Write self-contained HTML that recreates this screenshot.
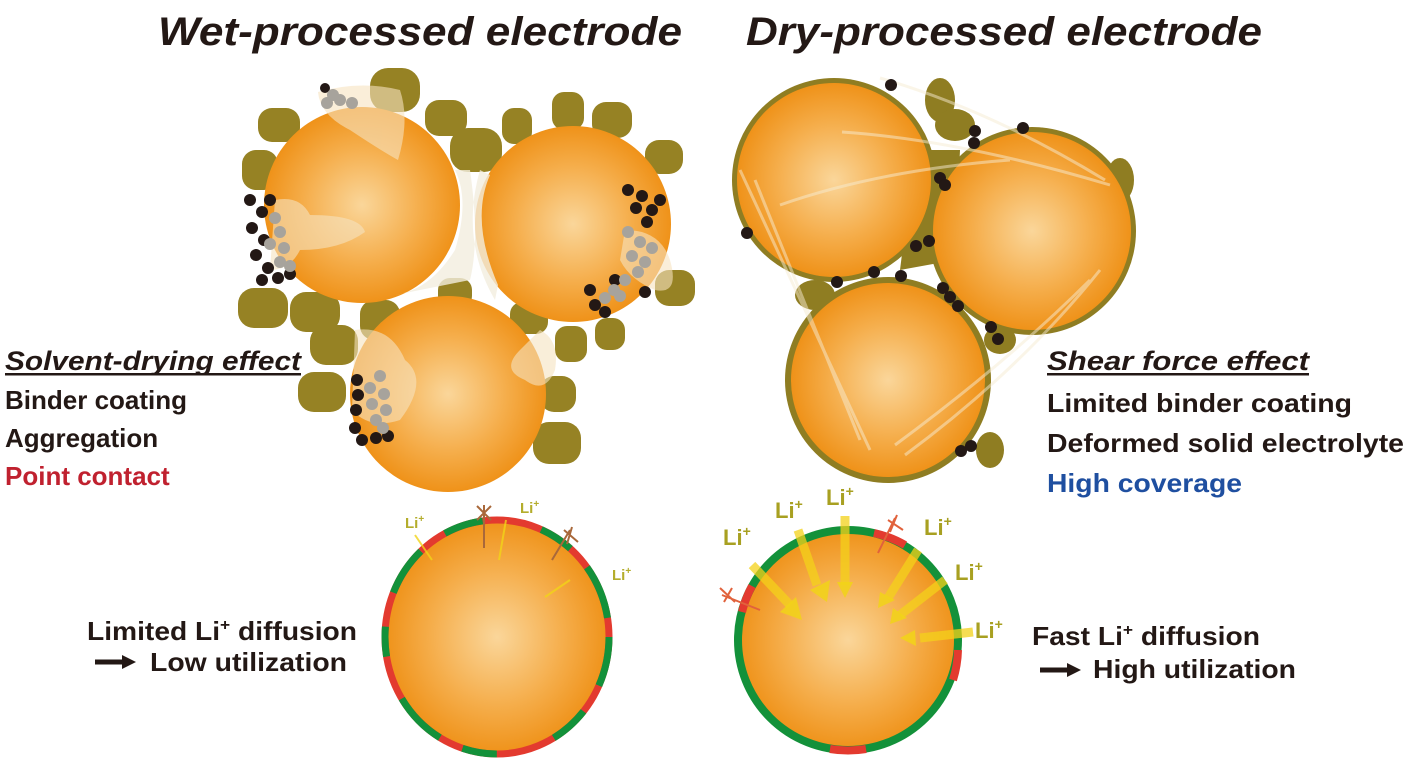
<!DOCTYPE html>
<html><head><meta charset="utf-8"><style>
html,body{margin:0;padding:0;background:#fff;}
svg{display:block;font-family:"Liberation Sans",Arial,sans-serif;}
</style></head><body>
<svg width="1407" height="766" viewBox="0 0 1407 766" xmlns="http://www.w3.org/2000/svg">
<defs>
<radialGradient id="og" cx="0.5" cy="0.5" r="0.5">
<stop offset="0" stop-color="#fad69a"/><stop offset="0.6" stop-color="#f5ad4a"/><stop offset="1" stop-color="#ef9219"/>
</radialGradient>
</defs>
<g font-weight="bold" fill="#231815">
<text x="158" y="45" font-size="40" font-style="italic" textLength="524" lengthAdjust="spacingAndGlyphs">Wet-processed electrode</text>
<text x="746" y="45" font-size="40" font-style="italic" textLength="516" lengthAdjust="spacingAndGlyphs">Dry-processed electrode</text>
<text x="5" y="370" font-size="27" font-style="italic" textLength="296" lengthAdjust="spacingAndGlyphs">Solvent-drying effect</text>
<rect x="5" y="373" width="296" height="2.5"/>
<text x="5" y="409" font-size="26">Binder coating</text>
<text x="5" y="447" font-size="26">Aggregation</text>
<text x="5" y="485" font-size="26" fill="#c0212f">Point contact</text>
<text x="1047" y="370" font-size="27" font-style="italic" textLength="262" lengthAdjust="spacingAndGlyphs">Shear force effect</text>
<rect x="1047" y="373" width="262" height="2.5"/>
<text x="1047" y="412" font-size="26" textLength="305" lengthAdjust="spacingAndGlyphs">Limited binder coating</text>
<text x="1047" y="452" font-size="26" textLength="357" lengthAdjust="spacingAndGlyphs">Deformed solid electrolyte</text>
<text x="1047" y="492" font-size="26" fill="#1f4fa0" textLength="195" lengthAdjust="spacingAndGlyphs">High coverage</text>
<text x="87" y="640" font-size="26" textLength="270" lengthAdjust="spacingAndGlyphs">Limited Li<tspan font-size="16" dy="-10">+</tspan><tspan dy="10"> diffusion</tspan></text>
<text x="150" y="671" font-size="26" textLength="197" lengthAdjust="spacingAndGlyphs">Low utilization</text>
<text x="1032" y="645" font-size="26" textLength="228" lengthAdjust="spacingAndGlyphs">Fast Li<tspan font-size="16" dy="-10">+</tspan><tspan dy="10"> diffusion</tspan></text>
<text x="1093" y="678" font-size="26" textLength="203" lengthAdjust="spacingAndGlyphs">High utilization</text>
</g>
<path d="M95 662 H124" stroke="#231815" stroke-width="5"/><path d="M122 655 L136 662 L122 669Z" fill="#231815"/>
<path d="M1040 670 H1069" stroke="#231815" stroke-width="5"/><path d="M1067 663 L1081 670 L1067 677Z" fill="#231815"/>

<!-- WET cluster -->
<g fill="#968224">
<rect x="258" y="108" width="42" height="34" rx="14"/><rect x="370" y="68" width="50" height="44" rx="18"/>
<rect x="425" y="100" width="42" height="36" rx="14"/><rect x="450" y="128" width="52" height="44" rx="18"/>
<rect x="502" y="108" width="30" height="36" rx="12"/><rect x="552" y="92" width="32" height="38" rx="12"/>
<rect x="592" y="102" width="40" height="36" rx="14"/><rect x="645" y="140" width="38" height="34" rx="14"/>
<rect x="242" y="150" width="36" height="40" rx="14"/><rect x="238" y="288" width="50" height="40" rx="16"/>
<rect x="290" y="292" width="50" height="40" rx="16"/><rect x="310" y="325" width="48" height="40" rx="16"/>
<rect x="298" y="372" width="48" height="40" rx="16"/><rect x="360" y="300" width="40" height="40" rx="14"/>
<rect x="438" y="278" width="34" height="30" rx="12"/><rect x="510" y="302" width="38" height="32" rx="12"/>
<rect x="555" y="326" width="32" height="36" rx="12"/><rect x="540" y="376" width="36" height="36" rx="14"/>
<rect x="533" y="422" width="48" height="42" rx="16"/><rect x="595" y="318" width="30" height="32" rx="12"/>
<rect x="655" y="270" width="40" height="36" rx="14"/>
</g>
<circle cx="362" cy="205" r="98" fill="url(#og)"/>
<circle cx="573" cy="224" r="98" fill="url(#og)"/>
<circle cx="448" cy="394" r="98" fill="url(#og)"/>
<path d="M455 170 Q470 200 455 250 Q430 290 395 295 L470 280 Q480 240 470 170Z M490 175 Q470 220 498 285 L495 300 Q460 240 480 170Z" fill="#f3eedf" opacity="0.8"/>
<g fill="#f6e3c0" opacity="0.6">
<path d="M318 92 Q360 80 400 90 Q410 120 398 160 Q380 150 350 130 Q320 115 318 92Z"/>
<path d="M275 200 Q300 195 310 215 Q360 215 365 232 Q340 250 300 250 Q290 270 270 270Z"/>
<path d="M355 330 Q390 325 405 360 Q430 380 400 420 Q370 430 352 410Z"/>
<path d="M540 330 Q560 340 555 370 Q545 395 525 380 Q500 370 520 350Z"/>
<path d="M625 230 Q660 230 670 260 Q680 295 655 290 Q630 280 620 260Z"/>
</g>
<g fill="#231815">
<circle cx="250" cy="200" r="6"/><circle cx="262" cy="212" r="6"/><circle cx="252" cy="228" r="6"/><circle cx="264" cy="240" r="6"/><circle cx="256" cy="255" r="6"/><circle cx="268" cy="268" r="6"/><circle cx="262" cy="280" r="6"/><circle cx="278" cy="278" r="6"/><circle cx="290" cy="274" r="6"/><circle cx="270" cy="200" r="6"/>
<circle cx="628" cy="190" r="6"/><circle cx="642" cy="196" r="6"/><circle cx="636" cy="208" r="6"/><circle cx="652" cy="210" r="6"/><circle cx="660" cy="200" r="6"/><circle cx="647" cy="222" r="6"/><circle cx="590" cy="290" r="6"/><circle cx="595" cy="305" r="6"/><circle cx="605" cy="312" r="6"/><circle cx="645" cy="292" r="6"/><circle cx="615" cy="280" r="6"/>
<circle cx="357" cy="380" r="6"/><circle cx="358" cy="395" r="6"/><circle cx="356" cy="410" r="6"/><circle cx="355" cy="428" r="6"/><circle cx="362" cy="440" r="6"/><circle cx="376" cy="438" r="6"/><circle cx="388" cy="436" r="6"/><circle cx="325" cy="88" r="5"/>
</g>
<g fill="#a7a39c">
<circle cx="327" cy="103" r="6"/><circle cx="340" cy="100" r="6"/><circle cx="352" cy="103" r="6"/><circle cx="333" cy="95" r="6"/>
<circle cx="275" cy="218" r="6"/><circle cx="280" cy="232" r="6"/><circle cx="284" cy="248" r="6"/><circle cx="280" cy="262" r="6"/><circle cx="290" cy="266" r="6"/><circle cx="270" cy="244" r="6"/>
<circle cx="628" cy="232" r="6"/><circle cx="640" cy="242" r="6"/><circle cx="632" cy="256" r="6"/><circle cx="645" cy="262" r="6"/><circle cx="638" cy="272" r="6"/><circle cx="625" cy="280" r="6"/><circle cx="614" cy="290" r="6"/><circle cx="605" cy="298" r="6"/><circle cx="620" cy="296" r="6"/><circle cx="652" cy="248" r="6"/>
<circle cx="380" cy="376" r="6"/><circle cx="370" cy="388" r="6"/><circle cx="384" cy="394" r="6"/><circle cx="372" cy="404" r="6"/><circle cx="386" cy="410" r="6"/><circle cx="376" cy="420" r="6"/><circle cx="383" cy="428" r="6"/>
</g>

<!-- DRY cluster -->
<g fill="#8f7d22">
<circle cx="834" cy="180" r="102"/><circle cx="1032" cy="231" r="104"/><circle cx="888" cy="380" r="103"/>
<path d="M915 150 L960 150 L955 260 L900 270Z"/>
<ellipse cx="940" cy="100" rx="15" ry="22"/><ellipse cx="955" cy="125" rx="20" ry="16"/>
<ellipse cx="815" cy="295" rx="20" ry="15"/><ellipse cx="1000" cy="340" rx="16" ry="14"/>
<ellipse cx="1120" cy="180" rx="14" ry="22"/><ellipse cx="990" cy="450" rx="14" ry="18"/>
</g>
<circle cx="834" cy="180" r="97" fill="url(#og)"/>
<circle cx="1032" cy="231" r="99" fill="url(#og)"/>
<circle cx="888" cy="380" r="97" fill="url(#og)"/>
<g stroke="#f7ecd2" stroke-width="3" opacity="0.5" fill="none">
<path d="M842 132 Q960 140 1110 185"/><path d="M780 205 Q880 170 1010 160"/><path d="M880 78 Q990 110 1105 180"/>
<path d="M740 170 L870 450"/><path d="M755 180 L860 440"/><path d="M905 455 Q1020 370 1100 270"/><path d="M895 445 Q1010 360 1090 280"/>
</g>
<g fill="#231815">
<circle cx="891" cy="85" r="6"/><circle cx="975" cy="131" r="6"/><circle cx="974" cy="143" r="6"/><circle cx="1023" cy="128" r="6"/><circle cx="940" cy="178" r="6"/><circle cx="945" cy="185" r="6"/><circle cx="747" cy="233" r="6"/><circle cx="916" cy="246" r="6"/><circle cx="929" cy="241" r="6"/><circle cx="874" cy="272" r="6"/><circle cx="901" cy="276" r="6"/><circle cx="837" cy="282" r="6"/><circle cx="943" cy="288" r="6"/><circle cx="950" cy="297" r="6"/><circle cx="958" cy="306" r="6"/><circle cx="991" cy="327" r="6"/><circle cx="998" cy="339" r="6"/><circle cx="961" cy="451" r="6"/><circle cx="971" cy="446" r="6"/>
</g>

<!-- bottom left particle -->
<ellipse cx="497" cy="637" rx="112" ry="117" fill="url(#og)"/>
<ellipse cx="497" cy="637" rx="112" ry="117" fill="none" stroke="#e33a2f" stroke-width="7"/>
<ellipse cx="497" cy="637" rx="112" ry="117" fill="none" stroke="#13913a" stroke-width="7" stroke-dasharray="50 30 40 60 35 25 55 45 30 35"/>
<!-- bottom right particle -->
<circle cx="848" cy="640" r="110" fill="url(#og)"/>
<circle cx="848" cy="640" r="110" fill="none" stroke="#13913a" stroke-width="8"/>
<g fill="none" stroke-width="8" stroke="#e33a2f">
<path d="M874 533 A110 110 0 0 1 905 545"/><path d="M742 612 A110 110 0 0 1 752 586"/><path d="M958 650 A110 110 0 0 1 953 680"/><path d="M830 749 A110 110 0 0 0 866 749"/>
</g>
<g font-weight="bold" fill="#b4ad2c">
<text x="405" y="528" font-size="15">Li<tspan font-size="10" dy="-6">+</tspan></text>
<text x="520" y="513" font-size="15">Li<tspan font-size="10" dy="-6">+</tspan></text>
<text x="612" y="580" font-size="15">Li<tspan font-size="10" dy="-6">+</tspan></text>
<g font-size="22" fill="#a8a021">
<text x="723" y="545">Li<tspan font-size="14" dy="-9">+</tspan></text>
<text x="775" y="518">Li<tspan font-size="14" dy="-9">+</tspan></text>
<text x="826" y="505">Li<tspan font-size="14" dy="-9">+</tspan></text>
<text x="924" y="535">Li<tspan font-size="14" dy="-9">+</tspan></text>
<text x="955" y="580">Li<tspan font-size="14" dy="-9">+</tspan></text>
<text x="975" y="638">Li<tspan font-size="14" dy="-9">+</tspan></text>
</g></g>
<g stroke="#f2d418" stroke-width="2" fill="none" opacity="0.8">
<path d="M415 535 L432 560"/><path d="M506 520 L499 560"/><path d="M570 580 L545 597"/>
</g>
<g stroke="#f4d21a" stroke-width="9" opacity="0.75" fill="none">
<path d="M752 565 L790 605"/><path d="M798 530 L817 585"/><path d="M845 516 L845 585"/><path d="M918 550 L888 598"/><path d="M945 580 L900 615"/><path d="M973 632 L920 638"/>
</g>
<g fill="#f2d418" opacity="0.85">
<path d="M780 612 L802 620 L796 597Z"/><path d="M810 590 L827 602 L830 580Z"/><path d="M837 582 L845 598 L853 582Z"/><path d="M880 592 L878 608 L895 600Z"/><path d="M893 608 L890 624 L907 618Z"/><path d="M915 630 L900 638 L916 646Z"/>
</g>
<g stroke="#a9683a" stroke-width="2" fill="none">
<path d="M484 505 L484 548 M477 506 L491 520 M491 506 L477 520"/><path d="M570 530 L552 560 M564 530 L578 542 M572 527 L567 544"/>
</g>
<g stroke="#e1623c" stroke-width="2" fill="none">
<path d="M722 595 L760 610 M720 588 L735 602 M732 588 L724 602"/><path d="M895 518 L878 553 M888 520 L903 530 M897 515 L890 532"/>
</g>
</svg>
</body></html>
